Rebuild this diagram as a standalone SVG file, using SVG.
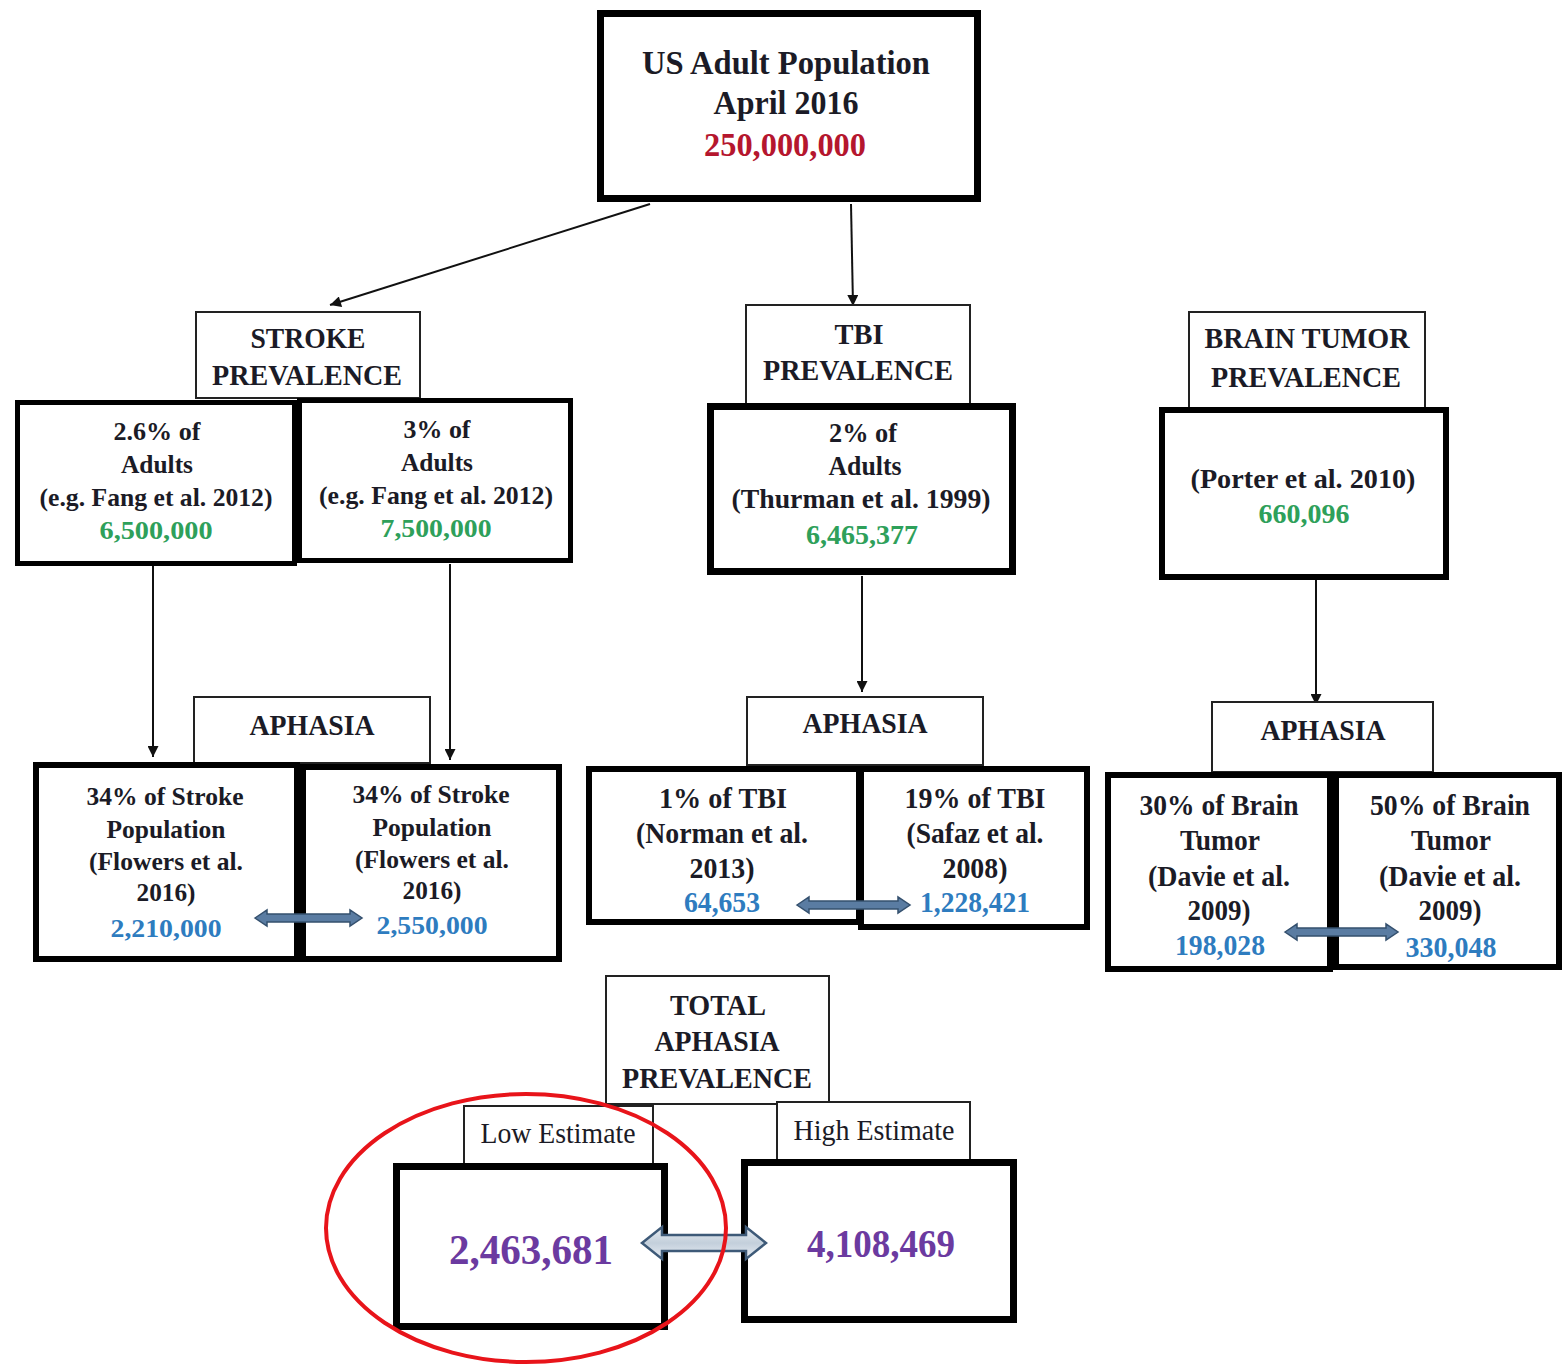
<svg xmlns="http://www.w3.org/2000/svg" width="1564" height="1366" viewBox="0 0 1564 1366">
<style>
  text { font-family: "Liberation Serif", "DejaVu Serif", "Times New Roman", serif; text-anchor: middle; fill: #1b1b26; }
  .b { font-weight: bold; }
  .n { font-weight: normal; }
  .red { fill: #b5162e; }
  .green { fill: #2ea05a; }
  .blue { fill: #2e7cbf; }
  .purple { fill: #6b3aa0; }
  .lbl { fill: #ffffff; stroke: #222; stroke-width: 2; }
  .thick { fill: #ffffff; stroke: #000; }
  .conn { stroke: #111; stroke-width: 2; fill: none; marker-end: url(#ah); }
  .dbl { fill: #5a7ca2; stroke: #34506e; stroke-width: 1.5; }
  .dblbig { fill: url(#gr); stroke: #3e5a78; stroke-width: 2.5; }
</style>
<defs>
  <marker id="ah" viewBox="0 0 10 10" refX="10" refY="5" markerWidth="12" markerHeight="11" orient="auto" markerUnits="userSpaceOnUse">
    <path d="M0,0 L10,5 L0,10 z" fill="#111"/>
  </marker>
  <linearGradient id="gr" x1="0" y1="0" x2="0" y2="1">
    <stop offset="0" stop-color="#e8edf3"/>
    <stop offset="0.5" stop-color="#c3cfdb"/>
    <stop offset="1" stop-color="#e8edf3"/>
  </linearGradient>
</defs>
<rect width="1564" height="1366" fill="#ffffff"/>

<g id="connectors">
  <line class="conn" x1="650" y1="204" x2="330" y2="305"/>
  <line class="conn" x1="851" y1="204" x2="853" y2="306"/>
  <line class="conn" x1="153" y1="566" x2="153" y2="757"/>
  <line class="conn" x1="450" y1="564" x2="450" y2="760"/>
  <line class="conn" x1="862" y1="576" x2="862" y2="692"/>
  <line class="conn" x1="1316" y1="580" x2="1316" y2="705"/>
</g>

<g id="us-population">
  <rect class="thick" x="600.5" y="13.5" width="377" height="185" stroke-width="7"/>
  <text class="b" x="786" y="74" font-size="34" textLength="288" lengthAdjust="spacingAndGlyphs">US Adult Population</text>
  <text class="b" x="786" y="114" font-size="34" textLength="145" lengthAdjust="spacingAndGlyphs">April 2016</text>
  <text class="b red" x="785" y="156" font-size="34" textLength="162" lengthAdjust="spacingAndGlyphs">250,000,000</text>
</g>

<g id="stroke-label">
  <rect class="lbl" x="196" y="312" width="224" height="86"/>
  <text class="b" x="308" y="348" font-size="30" textLength="115" lengthAdjust="spacingAndGlyphs">STROKE</text>
  <text class="b" x="307" y="385" font-size="30" textLength="190" lengthAdjust="spacingAndGlyphs">PREVALENCE</text>
</g>
<g id="stroke-low">
  <rect class="thick" x="17.5" y="402.5" width="277" height="161" stroke-width="5"/>
  <text class="b" x="157" y="440" font-size="26" textLength="87" lengthAdjust="spacingAndGlyphs">2.6% of</text>
  <text class="b" x="157" y="473" font-size="26" textLength="72" lengthAdjust="spacingAndGlyphs">Adults</text>
  <text class="b" x="156" y="506" font-size="26" textLength="233" lengthAdjust="spacingAndGlyphs">(e.g. Fang et al. 2012)</text>
  <text class="b green" x="156" y="539" font-size="26" textLength="113" lengthAdjust="spacingAndGlyphs">6,500,000</text>
</g>
<g id="stroke-high">
  <rect class="thick" x="299.5" y="400.5" width="271" height="160" stroke-width="5"/>
  <text class="b" x="437" y="438" font-size="26" textLength="67" lengthAdjust="spacingAndGlyphs">3% of</text>
  <text class="b" x="437" y="471" font-size="26" textLength="72" lengthAdjust="spacingAndGlyphs">Adults</text>
  <text class="b" x="436" y="504" font-size="26" textLength="234" lengthAdjust="spacingAndGlyphs">(e.g. Fang et al. 2012)</text>
  <text class="b green" x="436" y="537" font-size="26" textLength="111" lengthAdjust="spacingAndGlyphs">7,500,000</text>
</g>

<g id="tbi-label">
  <rect class="lbl" x="746" y="305" width="224" height="100"/>
  <text class="b" x="859" y="344" font-size="30" textLength="49" lengthAdjust="spacingAndGlyphs">TBI</text>
  <text class="b" x="858" y="380" font-size="30" textLength="190" lengthAdjust="spacingAndGlyphs">PREVALENCE</text>
</g>
<g id="tbi-prevalence">
  <rect class="thick" x="710.5" y="406.5" width="302" height="165" stroke-width="7"/>
  <text class="b" x="863" y="442" font-size="28" textLength="68" lengthAdjust="spacingAndGlyphs">2% of</text>
  <text class="b" x="865" y="475" font-size="28" textLength="73" lengthAdjust="spacingAndGlyphs">Adults</text>
  <text class="b" x="861" y="508" font-size="28" textLength="259" lengthAdjust="spacingAndGlyphs">(Thurman et al. 1999)</text>
  <text class="b green" x="862" y="544" font-size="28" textLength="112" lengthAdjust="spacingAndGlyphs">6,465,377</text>
</g>

<g id="tumor-label">
  <rect class="lbl" x="1189" y="312" width="236" height="97"/>
  <text class="b" x="1307" y="348" font-size="30" textLength="205" lengthAdjust="spacingAndGlyphs">BRAIN TUMOR</text>
  <text class="b" x="1306" y="387" font-size="30" textLength="190" lengthAdjust="spacingAndGlyphs">PREVALENCE</text>
</g>
<g id="tumor-prevalence">
  <rect class="thick" x="1162" y="410" width="284" height="167" stroke-width="6"/>
  <text class="b" x="1303" y="488" font-size="28" textLength="225" lengthAdjust="spacingAndGlyphs">(Porter et al. 2010)</text>
  <text class="b green" x="1304" y="523" font-size="28" textLength="91" lengthAdjust="spacingAndGlyphs">660,096</text>
</g>

<g id="stroke-aphasia-label">
  <rect class="lbl" x="194" y="697" width="236" height="66"/>
  <text class="b" x="312" y="735" font-size="30" textLength="125" lengthAdjust="spacingAndGlyphs">APHASIA</text>
</g>
<g id="stroke-aphasia-low">
  <rect class="thick" x="36" y="765" width="261" height="194" stroke-width="6"/>
  <text class="b" x="165" y="805" font-size="26" textLength="157" lengthAdjust="spacingAndGlyphs">34% of Stroke</text>
  <text class="b" x="166" y="838" font-size="26" textLength="119" lengthAdjust="spacingAndGlyphs">Population</text>
  <text class="b" x="166" y="870" font-size="26" textLength="154" lengthAdjust="spacingAndGlyphs">(Flowers et al.</text>
  <text class="b" x="166" y="901" font-size="26" textLength="59" lengthAdjust="spacingAndGlyphs">2016)</text>
  <text class="b blue" x="166" y="937" font-size="26" textLength="111" lengthAdjust="spacingAndGlyphs">2,210,000</text>
</g>
<g id="stroke-aphasia-high">
  <rect class="thick" x="303" y="767" width="256" height="192" stroke-width="6"/>
  <text class="b" x="431" y="803" font-size="26" textLength="157" lengthAdjust="spacingAndGlyphs">34% of Stroke</text>
  <text class="b" x="432" y="836" font-size="26" textLength="119" lengthAdjust="spacingAndGlyphs">Population</text>
  <text class="b" x="432" y="868" font-size="26" textLength="154" lengthAdjust="spacingAndGlyphs">(Flowers et al.</text>
  <text class="b" x="432" y="899" font-size="26" textLength="59" lengthAdjust="spacingAndGlyphs">2016)</text>
  <text class="b blue" x="432" y="934" font-size="26" textLength="111" lengthAdjust="spacingAndGlyphs">2,550,000</text>
</g>

<g id="tbi-aphasia-label">
  <rect class="lbl" x="747" y="697" width="236" height="68"/>
  <text class="b" x="865" y="733" font-size="30" textLength="125" lengthAdjust="spacingAndGlyphs">APHASIA</text>
</g>
<g id="tbi-aphasia-low">
  <rect class="thick" x="589" y="769" width="270" height="153" stroke-width="6"/>
  <text class="b" x="723" y="808" font-size="29" textLength="128" lengthAdjust="spacingAndGlyphs">1% of TBI</text>
  <text class="b" x="722" y="843" font-size="29" textLength="172" lengthAdjust="spacingAndGlyphs">(Norman et al.</text>
  <text class="b" x="722" y="878" font-size="29" textLength="65" lengthAdjust="spacingAndGlyphs">2013)</text>
  <text class="b blue" x="722" y="912" font-size="29" textLength="76" lengthAdjust="spacingAndGlyphs">64,653</text>
</g>
<g id="tbi-aphasia-high">
  <rect class="thick" x="861" y="769" width="226" height="158" stroke-width="6"/>
  <text class="b" x="975" y="808" font-size="29" textLength="141" lengthAdjust="spacingAndGlyphs">19% of TBI</text>
  <text class="b" x="975" y="843" font-size="29" textLength="137" lengthAdjust="spacingAndGlyphs">(Safaz et al.</text>
  <text class="b" x="975" y="878" font-size="29" textLength="65" lengthAdjust="spacingAndGlyphs">2008)</text>
  <text class="b blue" x="975" y="912" font-size="29" textLength="110" lengthAdjust="spacingAndGlyphs">1,228,421</text>
</g>

<g id="tumor-aphasia-label">
  <rect class="lbl" x="1212" y="702" width="221" height="70"/>
  <text class="b" x="1323" y="740" font-size="30" textLength="125" lengthAdjust="spacingAndGlyphs">APHASIA</text>
</g>
<g id="tumor-aphasia-low">
  <rect class="thick" x="1108" y="775" width="222" height="194" stroke-width="6"/>
  <text class="b" x="1219" y="815" font-size="29" textLength="159" lengthAdjust="spacingAndGlyphs">30% of Brain</text>
  <text class="b" x="1220" y="850" font-size="29" textLength="80" lengthAdjust="spacingAndGlyphs">Tumor</text>
  <text class="b" x="1219" y="886" font-size="29" textLength="142" lengthAdjust="spacingAndGlyphs">(Davie et al.</text>
  <text class="b" x="1219" y="920" font-size="29" textLength="63" lengthAdjust="spacingAndGlyphs">2009)</text>
  <text class="b blue" x="1220" y="955" font-size="29" textLength="90" lengthAdjust="spacingAndGlyphs">198,028</text>
</g>
<g id="tumor-aphasia-high">
  <rect class="thick" x="1336" y="775" width="223" height="192" stroke-width="6"/>
  <text class="b" x="1450" y="815" font-size="29" textLength="160" lengthAdjust="spacingAndGlyphs">50% of Brain</text>
  <text class="b" x="1451" y="850" font-size="29" textLength="80" lengthAdjust="spacingAndGlyphs">Tumor</text>
  <text class="b" x="1450" y="886" font-size="29" textLength="142" lengthAdjust="spacingAndGlyphs">(Davie et al.</text>
  <text class="b" x="1450" y="920" font-size="29" textLength="63" lengthAdjust="spacingAndGlyphs">2009)</text>
  <text class="b blue" x="1451" y="957" font-size="29" textLength="91" lengthAdjust="spacingAndGlyphs">330,048</text>
</g>

<g id="total-label">
  <rect class="lbl" x="606" y="976" width="223" height="128"/>
  <text class="b" x="718" y="1015" font-size="30" textLength="96" lengthAdjust="spacingAndGlyphs">TOTAL</text>
  <text class="b" x="717" y="1051" font-size="30" textLength="125" lengthAdjust="spacingAndGlyphs">APHASIA</text>
  <text class="b" x="717" y="1088" font-size="30" textLength="190" lengthAdjust="spacingAndGlyphs">PREVALENCE</text>
</g>
<g id="low-label">
  <rect class="lbl" x="464" y="1106" width="189" height="58"/>
  <text class="n" x="558" y="1143" font-size="29" textLength="155" lengthAdjust="spacingAndGlyphs">Low Estimate</text>
</g>
<g id="high-label">
  <rect class="lbl" x="777" y="1102" width="193" height="58"/>
  <text class="n" x="874" y="1140" font-size="29" textLength="161" lengthAdjust="spacingAndGlyphs">High Estimate</text>
</g>
<g id="low-estimate">
  <rect class="thick" x="396.5" y="1166.5" width="268" height="160" stroke-width="7"/>
  <text class="b purple" x="531" y="1264" font-size="42" textLength="164" lengthAdjust="spacingAndGlyphs">2,463,681</text>
</g>
<g id="high-estimate">
  <rect class="thick" x="744.5" y="1162.5" width="269" height="157" stroke-width="7"/>
  <text class="b purple" x="881" y="1257" font-size="40" textLength="148" lengthAdjust="spacingAndGlyphs">4,108,469</text>
</g>

<g id="range-arrows">
  <polygon class="dbl" points="255,918 267,910 267,914 350,914 350,910 362,918 350,926 350,922 267,922 267,926"/>
  <polygon class="dbl" points="797,905 809,897 809,901 898,901 898,897 910,905 898,913 898,909 809,909 809,913"/>
  <polygon class="dbl" points="1285,932 1297,924 1297,928 1386,928 1386,924 1398,932 1386,940 1386,936 1297,936 1297,940"/>
  <polygon class="dblbig" points="642,1243 662,1227 662,1235 746,1235 746,1227 766,1243 746,1259 746,1251 662,1251 662,1259"/>
</g>

<g id="highlight">
  <ellipse cx="526" cy="1228" rx="200" ry="134" fill="none" stroke="#e8141a" stroke-width="4"/>
</g>
</svg>
